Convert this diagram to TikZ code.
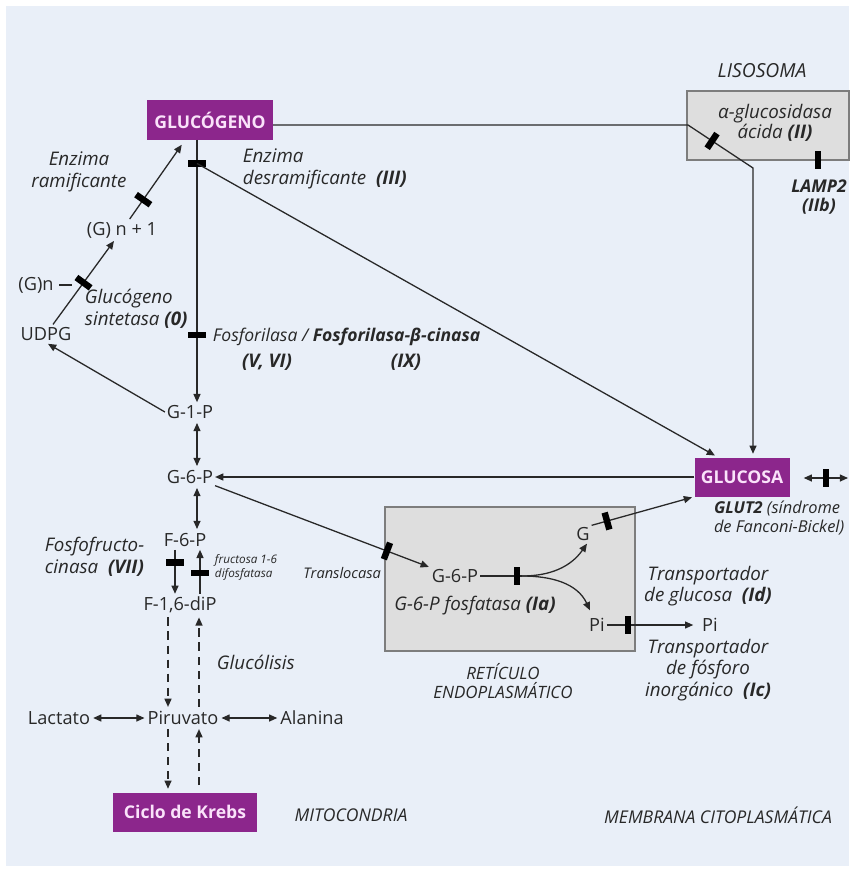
\documentclass[tikz,border=0pt]{standalone}
\usepackage{fontspec}
\setmainfont{Open Sans}
\usetikzlibrary{arrows.meta,calc}
\definecolor{bgblue}{RGB}{233,239,248}
\definecolor{keypurple}{RGB}{140,38,140}
\definecolor{keytext}{RGB}{250,226,250}
\definecolor{orgfill}{RGB}{222,222,222}
\definecolor{orgline}{RGB}{125,125,125}
\definecolor{ink}{RGB}{40,40,40}
\begin{document}
\begin{tikzpicture}[x=0.03cm,y=-0.03cm,
  every node/.style={inner sep=1.5pt, text=ink, font=\fontsize{15.5}{18.5}\selectfont},
  enz/.style={font=\fontsize{16}{18.5}\selectfont\itshape, align=left},
  place/.style={font=\fontsize{15}{16}\selectfont\itshape, align=center},
  keybox/.style={fill=keypurple, text=keytext, font=\fontsize{15}{17}\selectfont\bfseries,
    minimum height=1.17cm, inner sep=0pt},
  organelle/.style={fill=orgfill, draw=orgline, line width=0.9pt},
  flow/.style={draw=ink, line width=1.1pt},
  tip/.style={-{Triangle[length=7pt,width=6pt]}},
  both/.style={{Triangle[length=7pt,width=6pt]}-{Triangle[length=7pt,width=6pt]}},
  blocker/.style={fill=black, draw=none, inner sep=0pt, minimum width=5.5pt, minimum height=15pt},
  onpath/.style={blocker, sloped},
  brokenflow/.style={flow, dash pattern=on 7pt off 5pt},
]
% canvas
\fill[white] (0,0) rectangle (855,871);
\fill[bgblue] (6,6) rectangle (849,866);
\useasboundingbox (0,0) rectangle (855,871);

% compartments
\path[organelle] (687,91) rectangle (849,160);
\path[organelle] (385,507) rectangle (635,651);

% key metabolites
\node[keybox, minimum width=3.78cm] (glyc) at (210,120) {GLUCÓGENO};
\node[keybox, minimum width=2.85cm] (gluc) at (742,477) {GLUCOSA};
\node[keybox, minimum width=4.32cm] (krebs) at (185,812) {Ciclo de Krebs};

% compartment labels
\node[place, font=\fontsize{16.5}{18}\selectfont\itshape] (lisosoma) at (762,71) {LISOSOMA};
\node[place, font=\fontsize{14.5}{15.5}\selectfont\itshape] (ret) at (503,681) {RETÍCULO\\ENDOPLASMÁTICO};
\node[place] (mito) at (351,815) {MITOCONDRIA};
\node[place] (memb) at (718,815) {MEMBRANA CITOPLASMÁTICA};

% metabolites
\node (gn1) at (122,230) {(G) n + 1};
\node (gn) at (36,285) {(G)n};
\node (udpg) at (46,334) {UDPG};
\node (g1p) at (190,412) {G-1-P};
\node (g6p) at (190,477) {G-6-P};
\node (f6p) at (185,540) {F-6-P};
\node (f16) at (180,605) {F-1,6-diP};
\node (lact) at (59,718) {Lactato};
\node (piru) at (183,718) {Piruvato};
\node (alan) at (312,718) {Alanina};
\node (g6pin) at (455,576) {G-6-P};
\node (gin) at (583,534) {G};
\node (piin) at (597,625) {Pi};
\node (piout) at (710,625) {Pi};

% enzymes and transporters
\node[enz, align=center, font=\fontsize{16}{16}\selectfont\itshape] (agluc) at (775,123) {α-glucosidasa\\ácida \textbf{(II)}};
\node[enz, align=center, font=\fontsize{15}{17}\selectfont\bfseries\itshape] (lamp) at (819,197) {LAMP2\\(IIb)};
\node[enz, align=center] (ramif) at (79,172) {Enzima\\ramificante};
\node[enz, anchor=west] (desram) at (241,169) {Enzima\\desramificante\ \ \textbf{(III)}};
\node[enz, anchor=west] (gsint) at (83,309) {Glucógeno\\sintetasa \textbf{(0)}};
\node[enz, anchor=west, font=\fontsize{15}{18}\selectfont\itshape] (fosf) at (211,337) {Fosforilasa / \textbf{Fosforilasa-β-cinasa}};
\node[enz] (fosfa) at (267,362) {\textbf{(V, VI)}};
\node[enz] (fosfb) at (406,362) {\textbf{(IX)}};
\node[enz, anchor=west] (pfk) at (43,557) {Fosfofructo-\\cinasa\ \ \textbf{(VII)}};
\node[enz, anchor=west, font=\fontsize{10}{12}\selectfont\itshape] (fbp) at (213,567) {fructosa 1-6\\difosfatasa};
\node[enz, anchor=west] (glucol) at (215,662) {Glucólisis};
\node[enz, anchor=east, font=\fontsize{12.5}{15}\selectfont\itshape] (transl) at (383,573) {Translocasa};
\node[enz] (g6pase) at (475,606) {G-6-P fosfatasa \textbf{(Ia)}};
\node[enz, anchor=west, font=\fontsize{14}{16.5}\selectfont\itshape] (glut2) at (712,518) {\textbf{GLUT2} (síndrome\\de Fanconi-Bickel)};
\node[enz, align=center] (tglu) at (708,586) {Transportador\\de glucosa\ \ \textbf{(Id)}};
\node[enz, align=center] (tpi) at (708,670) {Transportador\\de fósforo\\inorgánico\ \ \textbf{(Ic)}};

% glycogen breakdown column
\coordinate (vtop) at ($(glyc.south)+(-13,0)$);
\draw[flow, tip, shorten >=1pt] (vtop) --
  node[onpath, pos=0.09] (bdes) {}
  node[onpath, pos=0.74] (bphos) {}
  (vtop |- g1p.north);
\draw[flow, both, shorten <=2pt, shorten >=2pt] (vtop |- g1p.south) -- (vtop |- g6p.north);
\draw[flow, both, shorten <=2pt, shorten >=2pt] (vtop |- g6p.south) -- (vtop |- f6p.north);

% debranching enzyme route to glucose
\draw[flow, tip, shorten >=3pt] (bdes.center) -- ($(gluc.north)+(-24,0)$);

% lysosomal route to glucose
\coordinate (lysin) at (688,125);
\coordinate (lysout) at (753,168);
\draw[flow, tip, shorten >=3pt] ($(glyc.east)+(0,5)$) -- (lysin) --
  node[onpath, pos=0.37] (bacid) {} (lysout) -- (lysout |- gluc.north);
\node[blocker] (blamp) at (818,160) {};

% synthesis branch
\draw[flow, tip, shorten <=1pt, shorten >=1pt] (udpg) -- node[onpath, pos=0.5] (bsint) {} (gn1);
\coordinate (gndash) at (72,285);
\draw[flow, shorten <=3pt] (gn.east) -- (gndash);
\draw[flow, tip, shorten <=1pt] (gn1) -- node[onpath, pos=0.27] (bram) {} ($(glyc.south west)+(35,5)$);
\draw[flow, tip, shorten >=2pt] (g1p.west) -- (udpg.south);

% glucose to G-6-P and out of the cell
\draw[flow, tip] (gluc.west) -- (g6p.east);
\coordinate (outR) at (848,478);
\draw[flow, both] ($(gluc.east)+(14,1)$) -- node[onpath, pos=0.5] (bglut) {} (outR);

% F-6-P / F-1,6-diP
\draw[flow, tip, shorten <=1pt, shorten >=1pt] ($(f6p.south)+(-10,0)$) -- node[onpath, pos=0.3] (bpfk) {} ($(f16.north)+(-5,0)$);
\draw[flow, tip, shorten <=1pt, shorten >=1pt] ($(f16.north)+(20,0)$) -- node[onpath, pos=0.48] (bfbp) {} ($(f6p.south)+(15,0)$);

% glycolysis and Krebs
\draw[brokenflow, tip, shorten <=2pt, shorten >=2pt] ($(f16.south)+(-12,0)$) -- ($(piru.north)+(-15,0)$);
\draw[brokenflow, tip, shorten <=2pt, shorten >=2pt] ($(piru.north)+(16,0)$) -- ($(f16.south)+(19,0)$);
\draw[flow, both, shorten <=1pt, shorten >=1pt] (lact) -- (piru);
\draw[flow, both, shorten <=1pt, shorten >=1pt] (piru) -- (alan);
\draw[brokenflow, tip, shorten <=2pt, shorten >=3pt] ($(piru.south)+(-15,0)$) -- ($(krebs.north)+(-17,0)$);
\draw[brokenflow, tip, shorten <=6pt, shorten >=2pt] ($(krebs.north)+(14,0)$) -- ($(piru.south)+(16,0)$);

% endoplasmic reticulum
\draw[flow, tip, shorten >=1pt] (g6p.south east) -- node[onpath, pos=0.8] (btrans) {} (g6pin.north west);
\coordinate (split) at (522,576);
\draw[flow] (g6pin.east) -- node[onpath, pos=0.88] (bg6pase) {} (split);
\draw[flow, tip] (split) to[out=0, in=235] ($(gin.south)+(4,1)$);
\draw[flow, tip] (split) to[out=0, in=115] ($(piin.north)+(-7,-6)$);
\draw[flow, tip, shorten >=2pt] (gin.north east) -- node[onpath, pos=0.15] (bgt) {} (gluc.south west);
\draw[flow, tip, shorten >=6pt] (piin.east) -- node[onpath, pos=0.23] (bpt) {} (piout.west);
\end{tikzpicture}
\end{document}
